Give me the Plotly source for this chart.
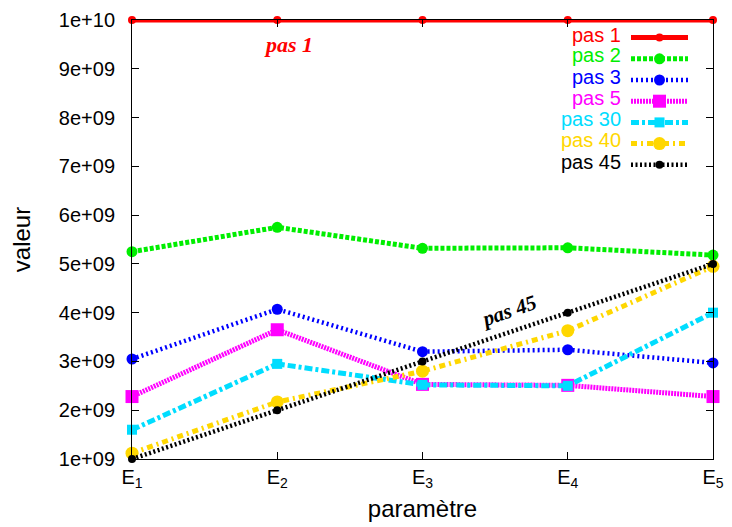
import plotly.graph_objects as go

categories = ["E<sub>1</sub>", "E<sub>2</sub>", "E<sub>3</sub>", "E<sub>4</sub>", "E<sub>5</sub>"]
pas1 = [10.0e9, 10.0e9, 10.0e9, 10.0e9, 10.0e9]
pas2 = [5.25e9, 5.75e9, 5.32e9, 5.33e9, 5.18e9]
pas3 = [3.05e9, 4.07e9, 3.2e9, 3.24e9, 2.97e9]
pas5 = [2.28e9, 3.65e9, 2.53e9, 2.51e9, 2.28e9]
pas30 = [1.6e9, 2.95e9, 2.52e9, 2.5e9, 4.0e9]
pas40 = [1.12e9, 2.17e9, 2.8e9, 3.63e9, 4.95e9]
pas45 = [1.0e9, 2.0e9, 3.0e9, 4.0e9, 5.0e9]
ytick_vals = [1e9, 2e9, 3e9, 4e9, 5e9, 6e9, 7e9, 8e9, 9e9, 1e10]
ytick_text = ["1e+09", "2e+09", "3e+09", "4e+09", "5e+09", "6e+09", "7e+09", "8e+09", "9e+09", "1e+10"]
names = ["pas 1", "pas 2", "pas 3", "pas 5", "pas 30", "pas 40", "pas 45"]

styles = [
    ("#ff0000", "solid", 5, "circle", 8),
    ("#00ee00", "4px,2px", 5, "circle", 11),
    ("#0000ff", "2px,3px", 4.5, "circle", 11),
    ("#ff00ff", "2px,1px", 5, "square", 13),
    ("#00ddff", "8px,3px,3px,3px", 5, "square", 10),
    ("#ffd700", "6px,4px,2px,4px", 5, "circle", 13),
    ("#000000", "2px,2.5px", 4.5, "circle", 8),
]
values = [pas1, pas2, pas3, pas5, pas30, pas40, pas45]

# page offset of the figure (browser body margin)
OFF = 8
W, H = 732 - OFF, 527 - OFF
PLOT_L, PLOT_R, PLOT_T, PLOT_B = 132 - OFF, 713 - OFF, 20 - OFF, 459 - OFF

def px_to_paper_x(px):
    return (px - OFF - PLOT_L) / (PLOT_R - PLOT_L)

def px_to_paper_y(py):
    return (PLOT_B - (py - OFF)) / (PLOT_B - PLOT_T)

x = list(range(len(categories)))
fig = go.Figure()
for name, vals, (color, dash, w, sym, ms) in zip(names, values, styles):
    fig.add_trace(go.Scatter(
        x=x, y=vals, name="\u200b", mode="lines+markers",
        line=dict(color=color, dash=dash, width=w),
        marker=dict(color=color, symbol=sym, size=ms),
        cliponaxis=False,
    ))

fig.update_layout(
    width=W, height=H,
    margin=dict(l=PLOT_L, r=W - PLOT_R, t=PLOT_T, b=H - PLOT_B),
    plot_bgcolor="white", paper_bgcolor="white",
    font=dict(family="Liberation Sans, Arial, sans-serif", size=20, color="black"),
    showlegend=True,
    legend=dict(x=px_to_paper_x(626), y=px_to_paper_y(22), xanchor="left", yanchor="top",
                bgcolor="rgba(0,0,0,0)", font=dict(size=14),
                tracegroupgap=0, itemwidth=57),
)
fig.update_xaxes(
    range=[0, 4], tickvals=x, ticktext=categories, automargin=False,
    showgrid=False, zeroline=False, showline=True, linecolor="black", linewidth=1,
    mirror="ticks", ticks="inside", ticklen=7, tickcolor="black",
    ticklabeloverflow="allow",
    title=dict(text="paramètre", standoff=9),
)
fig.update_yaxes(
    range=[1e9, 1e10], tickvals=ytick_vals, ticktext=ytick_text, automargin=False,
    showgrid=False, zeroline=False, showline=True, linecolor="black", linewidth=1,
    mirror="ticks", ticks="inside", ticklen=7, tickcolor="black", ticklabelstandoff=12,
    ticklabeloverflow="allow",
    title=dict(text="valeur", standoff=24),
)

legend_rows = [35, 55, 77, 98, 119, 140, 162]
for name, (color, *_), ry in zip(names, styles, legend_rows):
    fig.add_annotation(xref="paper", yref="paper", x=px_to_paper_x(623), y=px_to_paper_y(ry),
                       xanchor="right", yanchor="middle", text=name, showarrow=False,
                       font=dict(size=20, color=color))

fig.add_annotation(x=1.074, y=9.49e9, text="<b><i>pas 1</i></b>", showarrow=False,
                   font=dict(family="Liberation Serif, Times New Roman, serif", size=22, color="#ff0000"))
fig.add_annotation(x=2.59, y=4.03e9, text="<b><i>pas 45</i></b>", showarrow=False, textangle=-19,
                   font=dict(family="Liberation Serif, Times New Roman, serif", size=21, color="black"))

fig.write_html("out.html")
